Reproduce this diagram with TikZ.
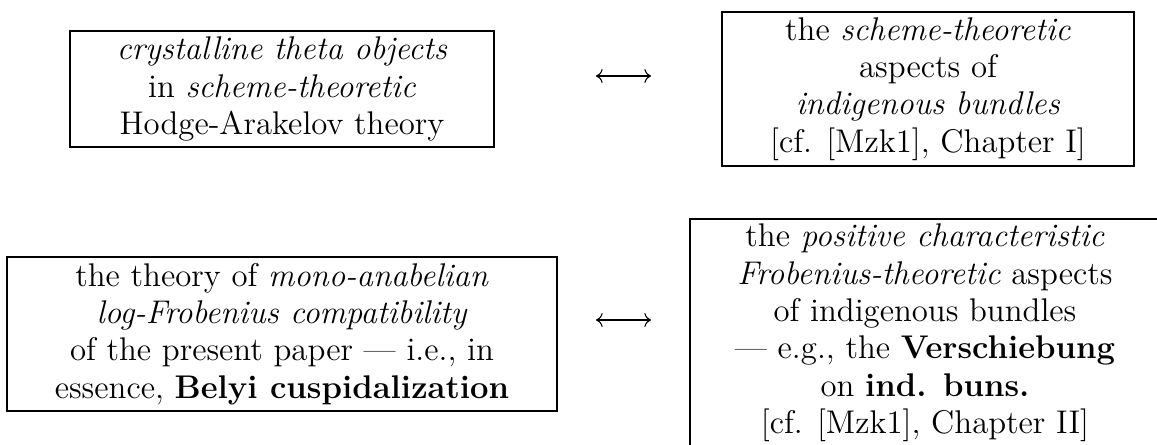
\documentclass[tikz,border=0pt]{standalone}
\usetikzlibrary{arrows.meta}
\tikzset{
  box/.style={draw, line width=1.1pt, align=center, inner sep=0pt,
    font=\fontsize{12.3}{14}\selectfont},
  arr/.style={line width=0.4pt,
    {Computer Modern Rightarrow}-{Computer Modern Rightarrow}},
}
\begin{document}
\begin{tikzpicture}[x=0.375pt, y=-0.375pt]
\path[use as bounding box, clip] (0,0) rectangle (1157,445);

\node[box, minimum width=159pt, minimum height=43.5pt] (theta) at (282,89)
  {\textit{crystalline theta objects}\\
   in \textit{scheme-theoretic}\\
   Hodge-Arakelov theory};

\node[box, minimum width=154.5pt, minimum height=57.75pt] (indig) at (928,89)
  {the \textit{scheme-theoretic}\\
   aspects of\\
   \textit{indigenous bundles}\\
   {[}cf. {[}Mzk1{]}, Chapter I{]}};

\node[box, minimum width=206.25pt, minimum height=57.75pt] (belyi) at (282,334)
  {the theory of \textit{mono-anabelian}\\
   \textit{log-Frobenius compatibility}\\
   of the present paper --- i.e., in\\
   essence, \textbf{Belyi cuspidalization}};

\node[box, minimum width=176.25pt, minimum height=85.5pt] (versch) at (925,333)
  {the \textit{positive characteristic}\\
   \textit{Frobenius-theoretic} aspects\\
   of indigenous bundles\\
   --- e.g., the \textbf{Verschiebung}\\
   on \textbf{ind. buns.}\\
   {[}cf. {[}Mzk1{]}, Chapter II{]}};

% correspondences between the two columns
\coordinate (topL) at (596,76);
\coordinate (topR) at (651,76);
\coordinate (botL) at (596,320);
\coordinate (botR) at (651,320);
\draw[arr] (topL) -- (topR);
\draw[arr] (botL) -- (botR);
\end{tikzpicture}
\end{document}
